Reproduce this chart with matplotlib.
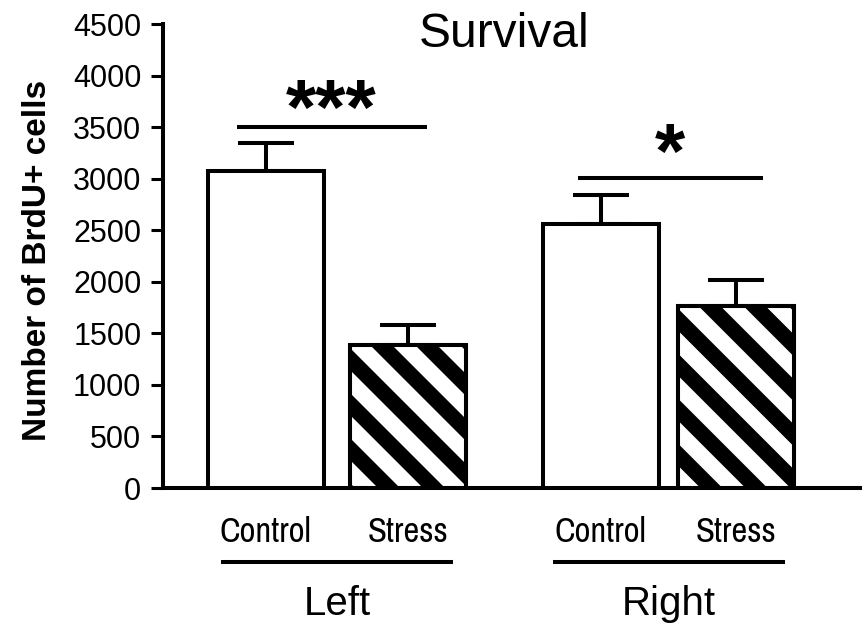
import matplotlib
matplotlib.use('Agg')
import matplotlib.pyplot as plt
import matplotlib.transforms as mtransforms
from matplotlib import font_manager
from matplotlib.patches import Polygon
import numpy as np

plt.rcParams['font.family'] = ['Liberation Sans', 'DejaVu Sans']

# BrdU+ cell counts (mean and SEM), left/right x control/stress
sides = ['Left', 'Right']
conditions = ['Control', 'Stress']
brdu_mean = [3070, 1385, 2565, 1765]
brdu_sem = [275, 200, 275, 255]
y_ticks = list(range(0, 4501, 500))
sig_marks = ['***', '*']
sig_heights = [3500, 3010]

# layout
positions = [0.0, 1.23, 2.89, 4.06]
bar_width = 1.0
sig_spans = [(positions[0] - 0.25, positions[1] + 0.16),
             (positions[2] - 0.20, positions[3] + 0.23)]
star_offsets = [-5, 0]   # baseline offset of the stars, points
lw = 2.9

# a narrow face for the condition labels: Liberation Sans Narrow if
# installed, otherwise any condensed face, otherwise plain Liberation Sans
fonts = [f for f in font_manager.fontManager.ttflist
         if f.style == 'normal' and f.weight in (400, 'normal', 'regular')]
narrow = [f for f in fonts if 'Narrow' in f.name]
condensed = [f for f in fonts if 'Condensed' in f.name or
             f.stretch in ('condensed', 'semi-condensed')]
if narrow:
    cond_font = font_manager.FontProperties(fname=narrow[0].fname, size=25)
elif condensed:
    cond_font = font_manager.FontProperties(fname=condensed[0].fname, size=21.5)
else:
    cond_font = font_manager.FontProperties(family='Liberation Sans', size=21)

fig = plt.figure(figsize=(8.67, 6.24), dpi=100)
ax = fig.add_axes([163 / 867, 136 / 624, 697 / 867, 464 / 624])
ax.set_xlim(-0.884, 5.125)
ax.set_ylim(0, 4500)

# error bars first so the bars hide the lower part
ax.errorbar(positions, brdu_mean, yerr=[np.zeros(len(brdu_sem)), brdu_sem],
            fmt='none', ecolor='black', elinewidth=lw, capsize=20.5,
            capthick=lw, zorder=1)

bars = ax.bar(positions, brdu_mean, width=bar_width, color='white',
              edgecolor='black', linewidth=lw, zorder=3)

# wide diagonal stripes on the stress bars, built in pixel space
period, band = 45, 22
for i, bar in enumerate(bars):
    if i % 2 == 0:
        continue
    x0, y0 = ax.transData.transform((bar.get_x(), 0))
    x1, y1 = ax.transData.transform((bar.get_x() + bar.get_width(), bar.get_height()))
    s_ref = x0 + y1
    pad = 50
    for k in range(-12, 12):
        sa = s_ref + 20 + period * k
        sb = sa + band
        pts = [(x0 - pad, sa - (x0 - pad)), (x1 + pad, sa - (x1 + pad)),
               (x1 + pad, sb - (x1 + pad)), (x0 - pad, sb - (x0 - pad))]
        stripe = Polygon(pts, closed=True, facecolor='black', edgecolor='none',
                         transform=mtransforms.IdentityTransform(), zorder=3.1)
        ax.add_patch(stripe)
        stripe.set_clip_path(bar)
    ax.bar(bar.get_x() + bar.get_width() / 2, bar.get_height(), width=bar_width,
           fill=False, edgecolor='black', linewidth=lw, zorder=3.2)

# significance bars and stars
for (xa, xb), h, mark, off in zip(sig_spans, sig_heights, sig_marks, star_offsets):
    ax.plot([xa, xb], [h, h], color='black', lw=lw, solid_capstyle='butt',
            clip_on=False, zorder=4)
    ax.annotate(mark, xy=((xa + xb) / 2, h), xytext=(0, off),
                textcoords='offset points', ha='center', va='baseline',
                fontsize=56, fontweight='bold')

# axes styling
for side in ['top', 'right']:
    ax.spines[side].set_visible(False)
for side in ['left', 'bottom']:
    ax.spines[side].set_linewidth(lw)
ax.set_xticks([])
ax.set_yticks(y_ticks)
ax.tick_params(axis='y', direction='out', length=8.6, width=2.2, pad=7,
               labelsize=22)

# condition labels and group brackets under the axis
btrans = mtransforms.blended_transform_factory(ax.transData, ax.transAxes)
for i, pos in enumerate(positions):
    ax.text(pos, -0.1164, conditions[i % 2], transform=btrans, ha='center',
            va='baseline', fontproperties=cond_font)
for g, side in enumerate(sides):
    mid = (positions[2 * g] + positions[2 * g + 1]) / 2
    ax.plot([mid - 1.0, mid + 1.0], [-0.1595, -0.1595], color='black', lw=lw,
            transform=btrans, clip_on=False, solid_capstyle='butt')
    ax.text(mid, -0.2737, side, transform=btrans, ha='center', va='baseline',
            fontsize=29)

fig.text(38 / 867, 1 - 260 / 624, 'Number of BrdU+ cells', rotation=90,
         ha='center', va='center', fontsize=24, fontweight='bold')
fig.text(504 / 867, 1 - 47 / 624, 'Survival', ha='center', va='baseline',
         fontsize=34.5)

fig.savefig('out.png', dpi=100, facecolor='white')
